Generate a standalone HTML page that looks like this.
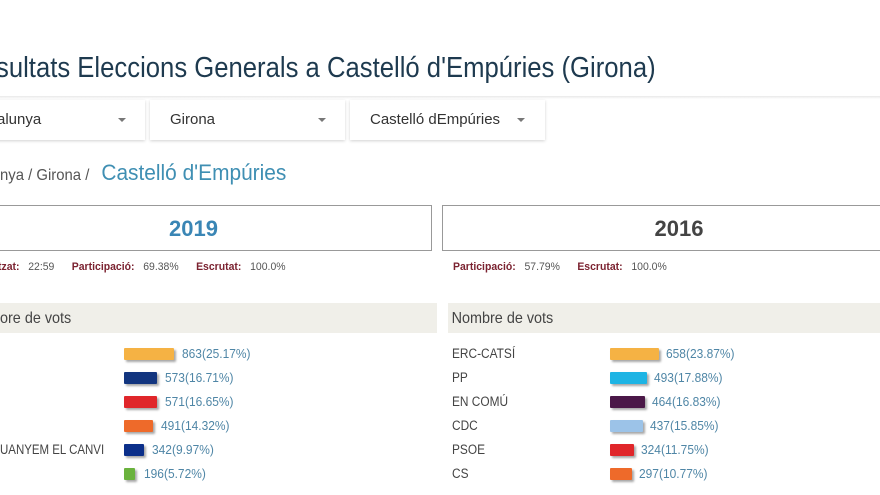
<!DOCTYPE html>
<html><head><meta charset="utf-8"><style>
body{margin:0;width:880px;height:495px;overflow:hidden;background:#fff;position:relative;font-family:"Liberation Sans",sans-serif;color:#444}
.a{position:absolute;white-space:nowrap}
.c{transform-origin:0 0}
.dd{position:absolute;top:100px;height:40px;background:#fff;box-shadow:0 1px 3px rgba(0,0,0,.18);font-size:15px;color:#333;line-height:40px}
.arr{position:absolute;top:18px;width:0;height:0;border-left:4px solid transparent;border-right:4px solid transparent;border-top:4px solid #777}
.yb{position:absolute;top:205px;height:44px;border:1px solid #999;background:#fff;font-weight:bold;font-size:22px;line-height:46px;text-align:center}
.st{position:absolute;top:261px;font-size:11px;color:#555;transform:scaleX(.95);transform-origin:0 0;white-space:nowrap}
.st b{color:#7b2230}
.band{position:absolute;top:303px;height:30px;background:#f0efe9;font-size:16px;line-height:32px;color:#444}
.bar{position:absolute;height:12px;border-radius:1px;box-shadow:2px 2px 2px rgba(0,0,0,.35)}
.v{position:absolute;font-size:13px;color:#4f86a6;white-space:nowrap;transform:scaleX(.92);transform-origin:0 0}
.l{position:absolute;font-size:13.5px;color:#444;left:452px;transform:scaleX(.88);transform-origin:0 0;white-space:nowrap}
</style></head><body>
<div class="a c" style="left:-4px;top:52px;font-size:29px;color:#1e3a4f;transform:scaleX(.885)">sultats Eleccions Generals a Castelló d'Empúries (Girona)</div>
<div class="a" style="left:0;top:96px;width:880px;height:3px;background:linear-gradient(#e8e8e8,#fff)"></div>
<div class="dd" style="left:-10px;width:155px"><span style="padding-left:7px">alunya</span><div class="arr" style="left:128px"></div></div>
<div class="dd" style="left:150px;width:195px"><span style="padding-left:20px">Girona</span><div class="arr" style="left:168px"></div></div>
<div class="dd" style="left:350px;width:195px"><span style="padding-left:20px">Castelló dEmpúries</span><div class="arr" style="left:167px"></div></div>
<div class="a c" style="left:0px;top:160px;font-size:16px;color:#555;transform:scaleX(.93)">nya / Girona / <span style="font-size:22px;color:#3f8fb3;display:inline-block;transform:scaleX(1.02);transform-origin:0 0;margin-left:8px">Castelló d'Empúries</span></div>
<div class="yb" style="left:-45px;width:475px;color:#3a86b5">2019</div>
<div class="yb" style="left:442px;width:472px;color:#444">2016</div>
<div class="st" style="left:-2px"><b>tzat:</b>&nbsp;&nbsp; 22:59 &nbsp;&nbsp;&nbsp;&nbsp; <b>Participació:</b>&nbsp;&nbsp; 69.38% &nbsp;&nbsp;&nbsp;&nbsp; <b>Escrutat:</b>&nbsp;&nbsp; 100.0%</div>
<div class="st" style="left:453px"><b>Participació:</b>&nbsp;&nbsp; 57.79% &nbsp;&nbsp;&nbsp;&nbsp; <b>Escrutat:</b>&nbsp;&nbsp; 100.0%</div>
<div class="band" style="left:0;width:437px;"><span style="display:inline-block;transform:scaleX(.9);transform-origin:0 0">ore de vots</span></div>
<div class="band" style="left:448px;width:432px;"><span style="display:inline-block;padding-left:4px;transform:scaleX(.9);transform-origin:0 0">Nombre de vots</span></div>

<div class="bar" style="left:124px;top:348px;width:50px;background:#f5b244"></div><div class="v" style="left:182px;top:346px">863(25.17%)</div>
<div class="bar" style="left:124px;top:372px;width:33px;background:#12357f"></div><div class="v" style="left:165px;top:370px">573(16.71%)</div>
<div class="bar" style="left:124px;top:396px;width:33px;background:#e0262a"></div><div class="v" style="left:165px;top:394px">571(16.65%)</div>
<div class="bar" style="left:124px;top:420px;width:29px;background:#ee6a2a"></div><div class="v" style="left:161px;top:418px">491(14.32%)</div>
<div class="a c" style="left:0;top:442px;font-size:13.5px;transform:scaleX(.85)">UANYEM EL CANVI</div>
<div class="bar" style="left:124px;top:444px;width:20px;background:#0b2f8a"></div><div class="v" style="left:152px;top:442px">342(9.97%)</div>
<div class="bar" style="left:124px;top:468px;width:11px;background:#6ab23d"></div><div class="v" style="left:144px;top:466px">196(5.72%)</div>

<div class="l" style="top:346px">ERC-CATSÍ</div>
<div class="bar" style="left:610px;top:348px;width:49px;background:#f5b244"></div><div class="v" style="left:666px;top:346px">658(23.87%)</div>
<div class="l" style="top:370px">PP</div>
<div class="bar" style="left:610px;top:372px;width:37px;background:#1eb4e4"></div><div class="v" style="left:654px;top:370px">493(17.88%)</div>
<div class="l" style="top:394px">EN COMÚ</div>
<div class="bar" style="left:610px;top:396px;width:35px;background:#4b1848"></div><div class="v" style="left:652px;top:394px">464(16.83%)</div>
<div class="l" style="top:418px">CDC</div>
<div class="bar" style="left:610px;top:420px;width:33px;background:#9cc3e8"></div><div class="v" style="left:650px;top:418px">437(15.85%)</div>
<div class="l" style="top:442px">PSOE</div>
<div class="bar" style="left:610px;top:444px;width:24px;background:#e0262a"></div><div class="v" style="left:641px;top:442px">324(11.75%)</div>
<div class="l" style="top:466px">CS</div>
<div class="bar" style="left:610px;top:468px;width:22px;background:#ee6a2a"></div><div class="v" style="left:639px;top:466px">297(10.77%)</div>
</body></html>
